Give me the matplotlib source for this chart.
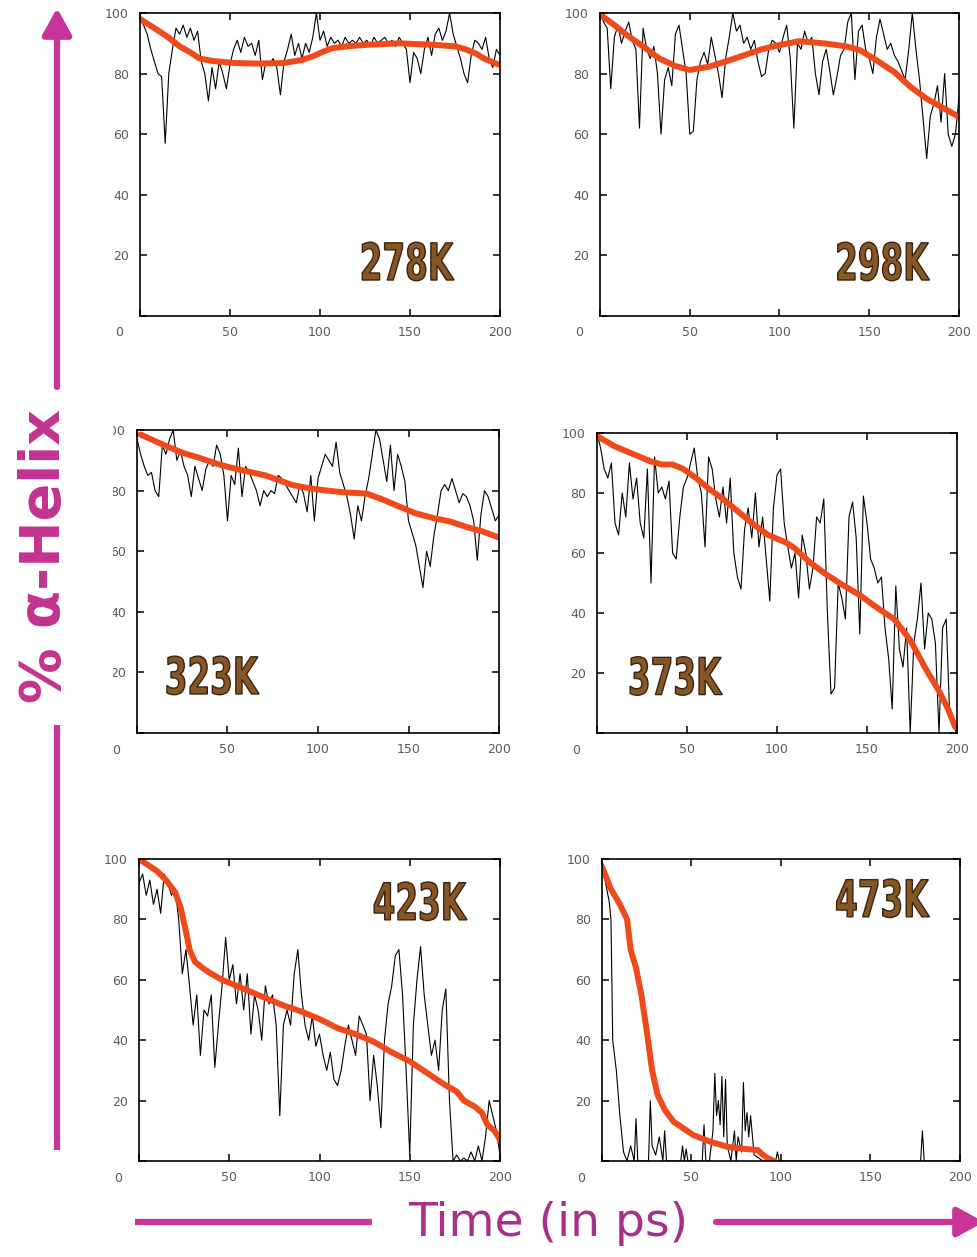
import matplotlib.pyplot as plt
from matplotlib.patches import FancyArrowPatch, Rectangle, PathPatch
from matplotlib.lines import Line2D
from matplotlib.textpath import TextPath
from matplotlib.font_manager import FontProperties
from matplotlib.transforms import Affine2D
import numpy as np

W, H = 978, 1257

temps = ['278K', '298K', '323K', '373K', '423K', '473K']

# % helix, one sample every 2 ps (0 .. 200 ps)
helix_278 = [98, 96, 93, 88, 84, 80, 79, 57, 80, 88,
             95, 93, 96, 92, 95, 91, 94, 84, 80, 71,
             82, 75, 84, 80, 75, 83, 88, 91, 87, 92,
             89, 90, 86, 91, 78, 84, 83, 85, 82, 73,
             84, 88, 93, 86, 90, 85, 90, 87, 92, 100,
             91, 94, 89, 92, 90, 91, 89, 92, 90, 91,
             90, 92, 90, 91, 89, 92, 90, 91, 92, 90,
             91, 89, 92, 90, 88, 77, 87, 85, 80, 88,
             92, 86, 93, 95, 91, 94, 100, 93, 89, 85,
             80, 77, 86, 91, 90, 88, 92, 85, 82, 88,
             86]
helix_298 = [100, 97, 95, 75, 92, 96, 90, 94, 97, 91,
             88, 62, 95, 88, 85, 89, 80, 60, 78, 82,
             76, 93, 96, 88, 80, 60, 61, 78, 84, 87,
             83, 92, 86, 80, 72, 85, 92, 100, 94, 96,
             90, 92, 88, 91, 84, 79, 80, 88, 91, 90,
             87, 92, 96, 85, 62, 90, 88, 94, 90, 92,
             80, 73, 84, 88, 81, 73, 79, 86, 88, 97,
             100, 78, 94, 96, 88, 85, 80, 92, 98, 93,
             88, 90, 86, 84, 81, 78, 88, 100, 88, 78,
             65, 52, 66, 70, 76, 64, 80, 60, 56, 60,
             72]
helix_323 = [97, 92, 88, 85, 86, 80, 78, 95, 92, 97,
             100, 90, 93, 88, 85, 78, 88, 84, 80, 87,
             90, 88, 95, 92, 85, 70, 85, 82, 94, 78,
             88, 86, 83, 80, 75, 80, 78, 80, 79, 85,
             84, 82, 80, 78, 76, 82, 79, 73, 85, 70,
             84, 88, 92, 90, 88, 96, 86, 82, 78, 72,
             64, 75, 70, 78, 84, 92, 100, 97, 90, 83,
             95, 80, 92, 88, 83, 70, 66, 62, 55, 48,
             60, 55, 65, 72, 80, 82, 80, 84, 80, 76,
             79, 78, 75, 70, 57, 72, 80, 78, 74, 70,
             72]
helix_373 = [100, 95, 88, 85, 90, 70, 66, 80, 72, 90,
             78, 85, 70, 65, 88, 50, 92, 80, 82, 78,
             84, 60, 58, 72, 82, 85, 90, 95, 85, 80,
             62, 92, 88, 78, 72, 82, 70, 85, 60, 52,
             48, 68, 75, 65, 80, 62, 72, 58, 44, 75,
             86, 88, 70, 62, 55, 60, 45, 66, 60, 48,
             55, 72, 70, 78, 40, 13, 15, 50, 45, 38,
             72, 77, 65, 33, 79, 70, 58, 55, 50, 52,
             35, 25, 8, 49, 28, 22, 35, 0, 30, 38,
             50, 28, 40, 38, 30, 0, 35, 38, 5, 2,
             0]
helix_423 = [92, 95, 88, 93, 85, 90, 82, 95, 92, 88,
             90, 80, 62, 70, 58, 45, 55, 35, 50, 48,
             55, 31, 45, 58, 74, 60, 65, 52, 62, 50,
             62, 42, 55, 50, 40, 58, 52, 55, 45, 15,
             45, 50, 45, 62, 70, 55, 45, 40, 48, 38,
             42, 35, 30, 36, 27, 25, 30, 38, 45, 40,
             35, 48, 45, 42, 20, 35, 25, 11, 40, 52,
             58, 68, 70, 55, 30, 2, 45, 60, 71, 55,
             45, 35, 40, 30, 50, 57, 20, 0, 2, 0,
             1, 0, 3, 0, 5, 0, 8, 20, 15, 10,
             2]

# at 473K the helix is gone early; only the bursts are listed
t_473 = [0, 2, 4, 5, 6, 8, 10, 12, 14, 16,
         18, 19, 20, 22, 26, 27, 28, 30, 32, 34,
         35, 36, 38, 44, 45, 46, 47, 48, 50, 56,
         57, 58, 60, 62, 63, 64, 65, 66, 67, 68,
         69, 70, 72, 74, 75, 76, 78, 79, 80, 81,
         82, 83, 85, 90, 97, 98, 99, 176, 178, 179,
         180, 182, 200]
helix_473 = [100, 92, 86, 80, 40, 30, 15, 3, 0, 5,
             0, 14, 0, 0, 0, 20, 5, 2, 8, 0,
             10, 0, 0, 0, 5, 0, 4, 0, 0, 0,
             12, 0, 0, 10, 29, 15, 20, 12, 28, 8,
             27, 5, 0, 10, 0, 8, 3, 26, 10, 16,
             8, 15, 2, 0, 0, 3, 0, 0, 0, 10,
             0, 0, 0]

# smoothed trend for each temperature
trend_t_278 = [0, 8, 15, 22, 28, 33, 40, 52, 65, 80, 90, 96, 102, 107, 115, 126, 144, 163, 175, 181, 187, 191, 196, 199]
trend_v_278 = [98, 95, 92.3, 89, 87, 85, 84.2, 83.5, 83.3, 83.5, 84.5, 85.7, 87.3, 88.4, 89, 89.5, 90, 89.5, 89, 88, 86.5, 85, 83.8, 83]
trend_t_298 = [0, 8, 15, 25, 33, 42, 50, 61, 70, 80, 90, 99, 111, 126, 137, 145, 154, 164, 173, 182, 192, 200]
trend_v_298 = [99.5, 96, 92.7, 88.5, 85, 82.5, 81.2, 82.3, 84, 86, 88, 89.3, 90.7, 89.9, 89, 87.7, 84.4, 80.5, 75.6, 71.7, 68.4, 65.7]
trend_t_323 = [2, 15, 25, 35, 45, 53, 62, 71, 78, 86, 95, 105, 115, 127, 136, 145, 154, 164, 173, 182, 191, 200]
trend_v_323 = [98.5, 95, 92.5, 90.7, 88.7, 87.4, 86.2, 85, 83.5, 81.8, 80.8, 80, 79.4, 79, 77, 74.7, 72.5, 70.9, 69.8, 68, 66.5, 64.5]
trend_t_373 = [0, 10, 20, 30, 36, 42, 48, 55, 62, 70, 78, 86, 95, 105, 110, 118, 127, 136, 146, 155, 165, 174, 183, 190, 195, 199]
trend_v_373 = [99, 95.5, 93, 90.5, 89.5, 89.5, 88, 85, 81.5, 78, 74, 70, 66, 63.5, 61.5, 57, 53, 49.5, 46, 42, 38, 31, 21, 14, 8, 2]
trend_t_423 = [0, 5, 10, 15, 20, 23, 26, 28, 31, 35, 40, 46, 52, 60, 70, 80, 90, 100, 110, 120, 130, 140, 145, 150, 160, 170, 176, 180, 186, 190, 193, 197, 200]
trend_v_423 = [100, 98, 96, 93, 89, 84, 76, 70, 66, 64, 62, 60, 58.5, 56.5, 54, 51.5, 49.5, 47, 44, 42, 39.5, 36, 34.5, 33, 29, 25, 23, 20, 18, 16, 12, 10, 7]
trend_t_473 = [0, 5, 10, 14, 16, 19, 22, 25, 28, 31, 35, 40, 45, 51, 60, 70, 80, 87, 90, 93, 96]
trend_v_473 = [97.5, 90, 85, 80, 70, 64, 55, 43, 30, 22, 17, 13, 11, 8.6, 6.5, 4.7, 4, 3.6, 2, 0.8, 0]

series = [
    (np.arange(len(helix_278)) * 2, helix_278, trend_t_278, trend_v_278),
    (np.arange(len(helix_298)) * 2, helix_298, trend_t_298, trend_v_298),
    (np.arange(len(helix_323)) * 2, helix_323, trend_t_323, trend_v_323),
    (np.arange(len(helix_373)) * 2, helix_373, trend_t_373, trend_v_373),
    (np.arange(len(helix_423)) * 2, helix_423, trend_t_423, trend_v_423),
    (t_473, helix_473, trend_t_473, trend_v_473),
]

# panel boxes in pixels: left, top, right, bottom
boxes = [(140, 13, 500, 316), (600, 13, 959, 316),
         (137, 430, 499, 733), (597, 433, 957, 733),
         (139, 859, 500, 1161), (602, 859, 960, 1161)]
label_pos = [(149, 18), (158, 18), (42, 19), (44, 19), (156, 86), (157, 87)]

MAGENTA = '#c8349a'
TICK_GREY = '#5a5a5a'
TREND = '#ee4a1c'
STAMP_FONT = FontProperties(family='DejaVu Sans', weight='bold')


def fxy(x, y):
    return x / W, 1 - y / H


def stamp(ax, x, y, s):
    # narrow brown temperature tag, squeezed sideways
    path = TextPath((0, 0), s, size=51, prop=STAMP_FONT)
    ext = path.get_extents()
    cx, cy = ax.transData.transform((x, y))
    tr = (Affine2D()
          .translate(-(ext.x0 + ext.x1) / 2, -(ext.y0 + ext.y1) / 2)
          .scale(0.64, 1.0)
          .translate(cx, cy))
    ax.add_artist(PathPatch(path, transform=tr, facecolor='#865626',
                            edgecolor='#3a2410', lw=1.0, zorder=4))


fig = plt.figure(figsize=(W / 100, H / 100), dpi=100)

for (l, t, r, b), (tt, vv, rt, rv), temp, (lx, ly) in zip(boxes, series, temps, label_pos):
    ax = fig.add_axes([l / W, 1 - b / H, (r - l) / W, (b - t) / H])
    ax.plot(tt, vv, color='black', lw=0.8)
    ax.plot(rt, rv, color=TREND, lw=4.3, solid_capstyle='round', solid_joinstyle='round')
    ax.set_xlim(0, 200)
    ax.set_ylim(0, 100)
    ax.set_xticks([0, 50, 100, 150, 200])
    ax.set_xticklabels(['', '50', '100', '150', '200'])
    ax.set_yticks([0, 20, 40, 60, 80, 100])
    ax.set_yticklabels(['', '20', '40', '60', '80', '100'])
    ax.tick_params(direction='in', length=5, width=1.1, top=True, right=True,
                   labelsize=9, labelcolor=TICK_GREY)
    ax.tick_params(axis='x', pad=7)
    ax.tick_params(axis='y', pad=8)
    for s in ax.spines.values():
        s.set_linewidth(1.2)
    ax.annotate('0', xy=(0, 0), xycoords='axes fraction', xytext=(-21, -17),
                textcoords='offset pixels', ha='center', va='center',
                fontsize=9, color=TICK_GREY)
    stamp(ax, lx, ly, temp)

# white band behind the vertical title
fig.add_artist(Rectangle(fxy(0, 722), 113 / W, (722 - 392) / H, transform=fig.transFigure,
                         facecolor='white', edgecolor='none', zorder=5))

# vertical arrow with a gap for the title
fig.add_artist(Line2D([57 / W, 57 / W], [1 - 1150 / H, 1 - 725 / H], transform=fig.transFigure,
                      color=MAGENTA, lw=4.5, solid_capstyle='butt', zorder=6))
fig.add_artist(FancyArrowPatch(fxy(57, 387), fxy(57, 8), transform=fig.transFigure,
                               arrowstyle='-|>,head_length=1.0,head_width=0.55', mutation_scale=16,
                               color=MAGENTA, lw=4.5, shrinkA=0, shrinkB=0, zorder=6))

# horizontal arrow with a gap for the title
fig.add_artist(Line2D([135 / W, 372 / W], [1 - 1222 / H, 1 - 1222 / H], transform=fig.transFigure,
                      color=MAGENTA, lw=4.5, solid_capstyle='butt', zorder=6))
fig.add_artist(FancyArrowPatch(fxy(716, 1222), fxy(984, 1222), transform=fig.transFigure,
                               arrowstyle='-|>,head_length=1.0,head_width=0.55', mutation_scale=16,
                               color=MAGENTA, lw=4.5, shrinkA=0, shrinkB=0, zorder=6))

fig.text(45 / W, 1 - 556 / H, '% α-Helix', rotation=90, ha='center', va='center',
         fontsize=40, fontweight='bold', color='#c2338f', zorder=7)
fig.text(548 / W, 1 - 1224 / H, 'Time (in ps)', ha='center', va='center',
         fontsize=34, color='#a8308a', zorder=7)

fig.savefig('out.png', dpi=100)
